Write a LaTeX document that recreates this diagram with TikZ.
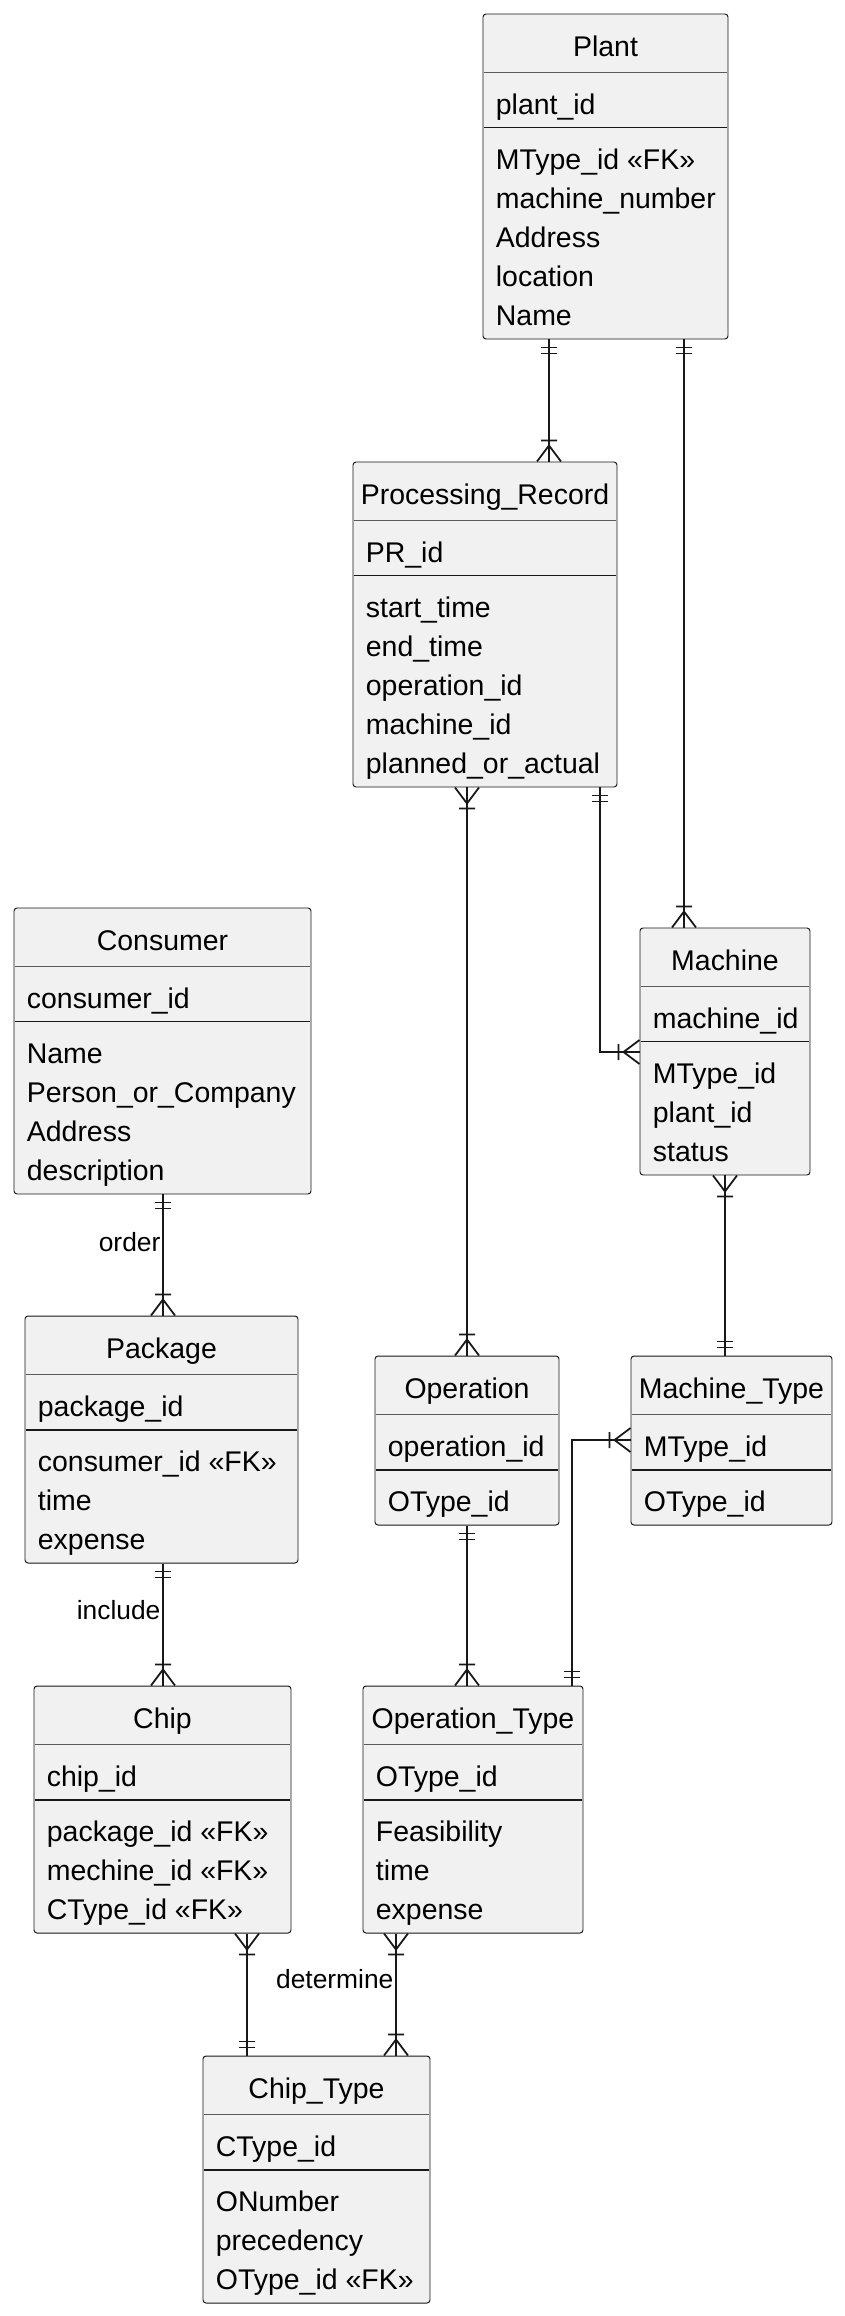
\documentclass[tikz,border=0pt]{standalone}
\usepackage{fontspec}
\setmainfont{Liberation Sans}
\usepackage{tikz}
\usetikzlibrary{positioning, fit, calc}
\definecolor{edge}{HTML}{181818}
\definecolor{boxfill}{HTML}{F1F1F1}
\definecolor{sepgray}{HTML}{5A5A5A}
\newcommand{\entfont}{\fontsize{16.2pt}{19pt}\selectfont}
\newcommand{\lblfont}{\fontsize{15pt}{18pt}\selectfont}
\tikzset{
  entity/.style={
    rectangle, rounded corners=0.06cm,
    draw=edge, line width=0.55pt,
    fill=boxfill, inner sep=0pt,
  },
  etitle/.style={anchor=base, inner sep=0pt, font=\entfont},
  erow/.style={anchor=base west, inner sep=0pt, font=\entfont},
  titlesep/.style={draw=sepgray, line width=0.5pt},
  pksep/.style={draw=edge, line width=1.1pt},
  rel/.style={draw=edge, line width=1pt},
  lbl/.style={anchor=east, inner sep=1pt, font=\lblfont},
  onlyone/.pic={\draw[rel] (-8,8) -- (8,8) (-8,14) -- (8,14);},
  oneormore/.pic={\draw[rel] (-12,0) -- (0,16) -- (12,0) (-8,21) -- (8,21);},
}
% name, left, top, right, bottom, title, key, attributes
\newcommand{\erentity}[8]{%
  \node[entity, fit={(#2,#3) (#4,#5)}] (#1) {};
  \node[etitle] (#1-t) at ($(#1.north)+(0,43)$) {#6};
  \draw[titlesep] ($(#1.north west)+(1,59)$) -- ($(#1.north east)+(-1,59)$);
  \node[erow] (#1-k) at ($(#1.north west)+(13,101)$) {#7};
  \draw[pksep] ($(#1.north west)+(1,114)$) -- ($(#1.north east)+(-1,114)$);
  \foreach \a [count=\i from 0] in {#8}
    \node[erow] (#1-a\i) at ($(#1.north west)+(13,{156+39*\i})$) {\a};
}
\begin{document}
\begin{tikzpicture}[x=0.02cm, y=-0.02cm]

  \fill[white] (0,0) rectangle (845,2316);

  \erentity{plant}{483}{14}{728}{339}{Plant}{plant\_id}{MType\_id «FK», machine\_number, Address, location, Name}
  \erentity{prec}{353}{462}{617}{787}{Processing\_Record}{PR\_id}{start\_time, end\_time, operation\_id, machine\_id, planned\_or\_actual}
  \erentity{machine}{640}{928}{810}{1175}{Machine}{machine\_id}{MType\_id, plant\_id, status}
  \erentity{consumer}{14}{908}{311}{1194}{Consumer}{consumer\_id}{Name, Person\_or\_Company, Address, description}
  \erentity{package}{25}{1316}{298}{1563}{Package}{package\_id}{consumer\_id «FK», time, expense}
  \erentity{operation}{375}{1356}{559}{1525}{Operation}{operation\_id}{OType\_id}
  \erentity{mtype}{631}{1356}{832}{1525}{Machine\_Type}{MType\_id}{OType\_id}
  \erentity{chip}{34}{1686}{291}{1933}{Chip}{chip\_id}{package\_id «FK», mechine\_id «FK», CType\_id «FK»}
  \erentity{optype}{363}{1686}{583}{1933}{Operation\_Type}{OType\_id}{Feasibility, time, expense}
  \erentity{ctype}{203}{2056}{430}{2303}{Chip\_Type}{CType\_id}{ONumber, precedency, OType\_id «FK»}

  \coordinate (xpa) at (549,0);
  \coordinate (xpm) at (684,0);
  \coordinate (xrm) at (600,1052);
  \coordinate (xro) at (467,0);
  \coordinate (xmt) at (725,0);
  \coordinate (xom) at (572,1440);
  \coordinate (xcp) at (163,0);
  \coordinate (xcc) at (247,0);
  \coordinate (xoc) at (396,0);

  \draw[rel] (plant.south -| xpa) pic{onlyone} -- (prec.north -| xpa) pic[rotate=180]{oneormore};
  \draw[rel] (plant.south -| xpm) pic{onlyone} -- (machine.north -| xpm) pic[rotate=180]{oneormore};
  \draw[rel] (prec.south -| xrm) pic{onlyone} |- (machine.west |- xrm) pic[rotate=-90]{oneormore};
  \draw[rel] (prec.south -| xro) pic{oneormore} -- (operation.north -| xro) pic[rotate=180]{oneormore};
  \draw[rel] (machine.south -| xmt) pic{oneormore} -- (mtype.north -| xmt) pic[rotate=180]{onlyone};
  \draw[rel] (operation.south -| xro) pic{onlyone} -- (optype.north -| xro) pic[rotate=180]{oneormore};
  \draw[rel] (optype.north -| xom) pic[rotate=180]{onlyone} |- (mtype.west |- xom) pic[rotate=-90]{oneormore};
  \draw[rel] (consumer.south -| xcp) pic{onlyone} -- node[lbl, pos=0.39]{order} (package.north -| xcp) pic[rotate=180]{oneormore};
  \draw[rel] (package.south -| xcp) pic{onlyone} -- node[lbl, pos=0.38]{include} (chip.north -| xcp) pic[rotate=180]{oneormore};
  \draw[rel] (chip.south -| xcc) pic{oneormore} -- (ctype.north -| xcc) pic[rotate=180]{onlyone};
  \draw[rel] (optype.south -| xoc) pic{oneormore} -- node[lbl, pos=0.37]{determine} (ctype.north -| xoc) pic[rotate=180]{oneormore};

\end{tikzpicture}
\end{document}
